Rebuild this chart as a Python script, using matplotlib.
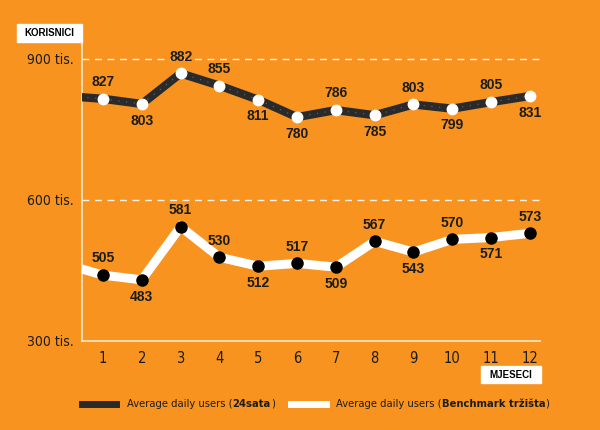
""" 24sata vs benchmark: average daily users by month """

import matplotlib
matplotlib.use("Agg")
import matplotlib.pyplot as plt
from matplotlib.patches import Rectangle

# data (month 0 = leading segment that runs off the left edge)
months = [0, 1, 2, 3, 4, 5, 6, 7, 8, 9, 10, 11, 12]
users_24sata = [821, 815, 804, 869, 843, 813, 776, 791, 780, 803, 794, 808, 821]
users_bench = [464, 440, 430, 543, 478, 459, 465, 457, 512, 489, 516, 520, 529]

labels_24sata = ["827", "803", "882", "855", "811", "780", "786", "785", "803", "799", "805", "831"]
labels_bench = ["505", "483", "581", "530", "512", "517", "509", "567", "543", "570", "571", "573"]
above_24sata = [1, 0, 1, 1, 0, 0, 1, 0, 1, 0, 1, 0]
above_bench = [1, 0, 1, 1, 0, 1, 0, 1, 0, 1, 0, 1]

yticks = [300, 600, 900]
ytick_labels = ["300 tis.", "600 tis.", "900 tis."]

ORANGE = "#F7931E"
DARK = "#2a2a2a"
TXT = "#1c1c1c"
SPINE = "#FCE3BE"
NARROW = dict(family=["DejaVu Sans"], stretch="condensed")
BOLD = ["Liberation Sans", "DejaVu Sans"]

fig = plt.figure(figsize=(6, 4.3), dpi=100, facecolor=ORANGE)
ax = fig.add_axes([82 / 600, 1 - 341 / 430, 458 / 600, 301 / 430])
ax.set_facecolor(ORANGE)

ax.set_xlim(0.46, 12.26)
ax.set_ylim(300, 940)

for g in [600, 900]:
    ax.axhline(g, color="white", lw=1, ls=(0, (5, 4)), alpha=0.9, zorder=1)

# lines
ax.plot(months, users_24sata, color=DARK, lw=6, solid_joinstyle="miter", zorder=3)
ax.plot(months, users_24sata, color="#6a6a6a", lw=0.8, ls=(0, (1, 6)), zorder=3.5)
ax.plot(months[1:], users_24sata[1:], ls="none", marker="o", ms=7.5,
        mfc="white", mec="white", zorder=4)

ax.plot(months, users_bench, color="white", lw=6.5, solid_joinstyle="miter", zorder=3)
ax.plot(months[1:], users_bench[1:], ls="none", marker="o", ms=8,
        mfc="black", mec="black", zorder=4)

# value labels
for m, v, lab, up in zip(months[1:], users_24sata[1:], labels_24sata, above_24sata):
    ax.annotate(lab, (m, v), xytext=(0, 12 if up else -12), textcoords="offset points",
                ha="center", va="center", fontsize=10, fontweight="bold",
                family=BOLD, color=TXT, zorder=5)
for m, v, lab, up in zip(months[1:], users_bench[1:], labels_bench, above_bench):
    ax.annotate(lab, (m, v), xytext=(0, 12 if up else -12), textcoords="offset points",
                ha="center", va="center", fontsize=10, fontweight="bold",
                family=BOLD, color=TXT, zorder=5)

# axes styling
for s in ["top", "right"]:
    ax.spines[s].set_visible(False)
for s in ["left", "bottom"]:
    ax.spines[s].set_color(SPINE)
    ax.spines[s].set_linewidth(1.3)
ax.set_xticks(months[1:])
ax.set_xticklabels([str(m) for m in months[1:]], fontsize=10.5, color=TXT, **NARROW)
ax.set_yticks(yticks)
ax.set_yticklabels(ytick_labels, fontsize=10, color=TXT, **NARROW)
ax.tick_params(length=0, pad=7)
ax.tick_params(axis="y", pad=6)

# axis title boxes
fig.patches.append(Rectangle((17 / 600, 1 - 42 / 430), 65 / 600, 18 / 430,
                             transform=fig.transFigure, color="white", zorder=0))
fig.text(49.5 / 600, 1 - 33 / 430, "KORISNICI", ha="center", va="center",
         fontsize=7, fontweight="bold", family=BOLD, color="black")
fig.patches.append(Rectangle((481 / 600, 1 - 383 / 430), 60 / 600, 17 / 430,
                             transform=fig.transFigure, color="white", zorder=0))
fig.text(511 / 600, 1 - 374.5 / 430, "MJESECI", ha="center", va="center",
         fontsize=7, fontweight="bold", family=BOLD, color="black")

# legend
ly = 1 - 404 / 430
fig.lines.append(plt.Line2D([82 / 600, 116 / 600], [ly, ly], transform=fig.transFigure,
                            color=DARK, lw=5))
fig.lines.append(plt.Line2D([291 / 600, 326 / 600], [ly, ly], transform=fig.transFigure,
                            color="white", lw=5))


def legend_text(x, plain, bold):
    t1 = fig.text(x, ly, plain + "(", ha="left", va="center", fontsize=8,
                  color=TXT, **NARROW)
    a2 = ax.annotate(bold, xy=(1, 0.5), xycoords=t1, va="center", ha="left",
                     fontsize=8, fontweight="bold", color=TXT, annotation_clip=False,
                     **NARROW)
    ax.annotate(")", xy=(1, 0.5), xycoords=a2, va="center", ha="left",
                fontsize=8, color=TXT, annotation_clip=False, **NARROW)


legend_text(127 / 600, "Average daily users ", "24sata")
legend_text(336 / 600, "Average daily users ", "Benchmark tržišta")

fig.savefig("out.png", dpi=100, facecolor=ORANGE)
